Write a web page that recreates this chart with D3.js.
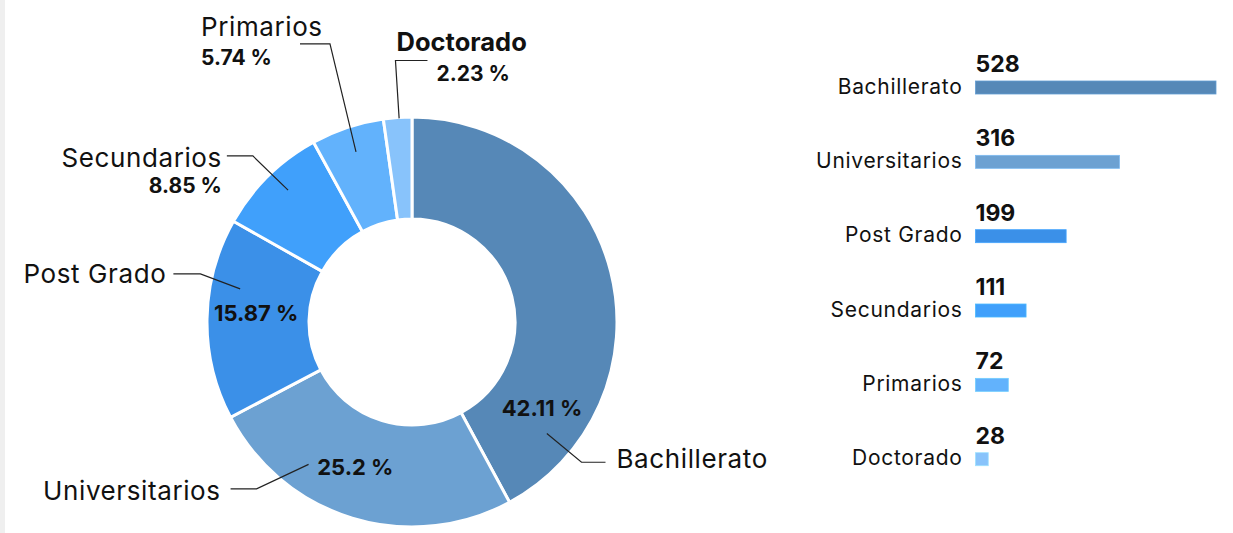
<!DOCTYPE html>
<html>
<head>
<meta charset="utf-8">
<script src="https://cdn.jsdelivr.net/npm/d3@7"></script>
<style>
  body { margin: 0; background: #fff; }
  svg text { font-family: Inter, "Open Sans", sans-serif; fill: #111; }
</style>
</head>
<body>
<div id="chart"></div>
<script>
// DATA
var categories = ["Bachillerato", "Universitarios", "Post Grado", "Secundarios", "Primarios", "Doctorado"];
var counts = [528, 316, 199, 111, 72, 28];
var percentLabels = ["42.11 %", "25.2 %", "15.87 %", "8.85 %", "5.74 %", "2.23 %"];
var colors = ["#5688b7", "#6ca1d2", "#3b90e8", "#40a0fb", "#62b2fc", "#88c3fb"];

// label layout for the donut: where along each slice the leader starts (frac) and bends (frac2)
var labelLayout = {
  "Bachillerato":   {frac: 0.855, frac2: 0.855, pctFrac: 0.815, r1: 175, r2: 220, run: 24,  inside: true,  anchor: "start", dx: 11,  dy: 6},
  "Universitarios": {frac: 0.71,  frac2: 0.787, pctFrac: 0.548, r1: 176, r2: 228, run: -26, inside: true,  anchor: "end",   dx: -10, dy: 11},
  "Post Grado":     {frac: 0.676, frac2: 0.709, pctFrac: 0.54,  r1: 175, r2: 217, run: -27, inside: true,  anchor: "end",   dx: -7,  dy: 9},
  "Secundarios":    {frac: 0.545, frac2: 0.527, r1: 181, r2: 230, run: -26, inside: false, anchor: "end", dx: -5, dy: 11, pAnchor: "end", pdx: -5, pdy: 37},
  "Primarios":      {frac: 0.507, frac2: 0.594, r1: 179, r2: 290, run: -30, inside: false, anchor: "start", dx: -99, dy: -8, pAnchor: "start", pdx: -99, pdy: 21},
  "Doctorado":      {frac: 0.55,  frac2: 0.55,  r1: 204, r2: 262, run: 32,  inside: false, anchor: "start", dx: -31, dy: -10, pAnchor: "start", pdx: 9, pdy: 20, bold: true}
};

var width = 1233, height = 533;

var svg = d3.select("#chart").append("svg")
    .attr("width", width)
    .attr("height", height);

// light strip on the left edge
svg.append("rect")
    .attr("x", 0).attr("y", 0)
    .attr("width", 5).attr("height", height)
    .style("fill", "#efefef");

// ---------- DONUT ----------
var cx = 412, cy = 322, outerR = 205, innerR = 103;

var pie = d3.pie()
    .sort(null)
    .value(function(d) { return d.value; });

var data = categories.map(function(c, i) {
  return {name: c, value: counts[i], pct: percentLabels[i], color: colors[i]};
});

var arcs = pie(data);

var arc = d3.arc()
    .innerRadius(innerR)
    .outerRadius(outerR);

var g = svg.append("g")
    .attr("transform", "translate(" + cx + "," + cy + ")");

g.selectAll(".slice")
    .data(arcs)
    .enter().append("path")
    .attr("class", "slice")
    .attr("d", arc)
    .style("fill", function(d) { return d.data.color; })
    .style("stroke", "#fff")
    .style("stroke-width", 3);

function polar(a, r) { return [r * Math.sin(a), -r * Math.cos(a)]; }

arcs.forEach(function(d) {
  var L = labelLayout[d.data.name];
  var span = d.endAngle - d.startAngle;
  var p1 = polar(d.startAngle + span * L.frac, L.r1);
  var p2 = polar(d.startAngle + span * L.frac2, L.r2);
  var p3 = [p2[0] + L.run, p2[1]];

  g.append("path")
      .attr("d", d3.line()([p1, p2, p3]))
      .style("fill", "none")
      .style("stroke", "#222")
      .style("stroke-width", 1.2);

  g.append("text")
      .attr("x", p3[0] + L.dx)
      .attr("y", p3[1] + L.dy)
      .attr("text-anchor", L.anchor)
      .style("font-size", L.bold ? "25.5px" : "26px")
      .style("font-weight", L.bold ? 700 : 400)
      .style("letter-spacing", L.bold ? "0px" : "0.6px")
      .text(d.data.name);

  if (L.inside) {
    var pp = polar(d.startAngle + span * L.pctFrac, 156);
    g.append("text")
        .attr("x", pp[0])
        .attr("y", pp[1])
        .attr("dy", "0.35em")
        .attr("text-anchor", "middle")
        .style("font-size", "22px")
        .style("font-weight", 700)
        .text(d.data.pct);
  } else {
    g.append("text")
        .attr("x", p3[0] + L.pdx)
        .attr("y", p3[1] + L.pdy)
        .attr("text-anchor", L.pAnchor)
        .style("font-size", "21px")
        .style("font-weight", 700)
        .text(d.data.pct);
  }
});

// ---------- BAR CHART ----------
var barX0 = 975.5, barH = 13;

var x = d3.scaleLinear()
    .domain([0, d3.max(counts)])
    .range([0, 240.5]);

var y = d3.scalePoint()
    .domain(categories)
    .range([87.5, 459.2]);

var bars = svg.append("g")
    .attr("transform", "translate(" + barX0 + ",0)");

bars.selectAll(".bar")
    .data(data)
    .enter().append("rect")
    .attr("class", "bar")
    .attr("x", 0)
    .attr("y", function(d) { return y(d.name) - barH / 2; })
    .attr("width", function(d) { return x(d.value); })
    .attr("height", barH)
    .style("fill", function(d) { return d.color; })
    .style("stroke", function(d) { return d3.color(d.color).brighter(0.4); })
    .style("stroke-width", 0.8);

bars.selectAll(".val")
    .data(data)
    .enter().append("text")
    .attr("class", "val")
    .attr("x", 0)
    .attr("y", function(d) { return y(d.name) - 15.5; })
    .style("font-size", "23px")
    .style("font-weight", 700)
    .text(function(d) { return d.value; });

bars.selectAll(".cat")
    .data(data)
    .enter().append("text")
    .attr("class", "cat")
    .attr("x", -13)
    .attr("y", function(d) { return y(d.name) + 6; })
    .attr("text-anchor", "end")
    .style("font-size", "21px")
    .style("font-weight", 400)
    .style("letter-spacing", "0.7px")
    .text(function(d) { return d.name; });
</script>
</body>
</html>
